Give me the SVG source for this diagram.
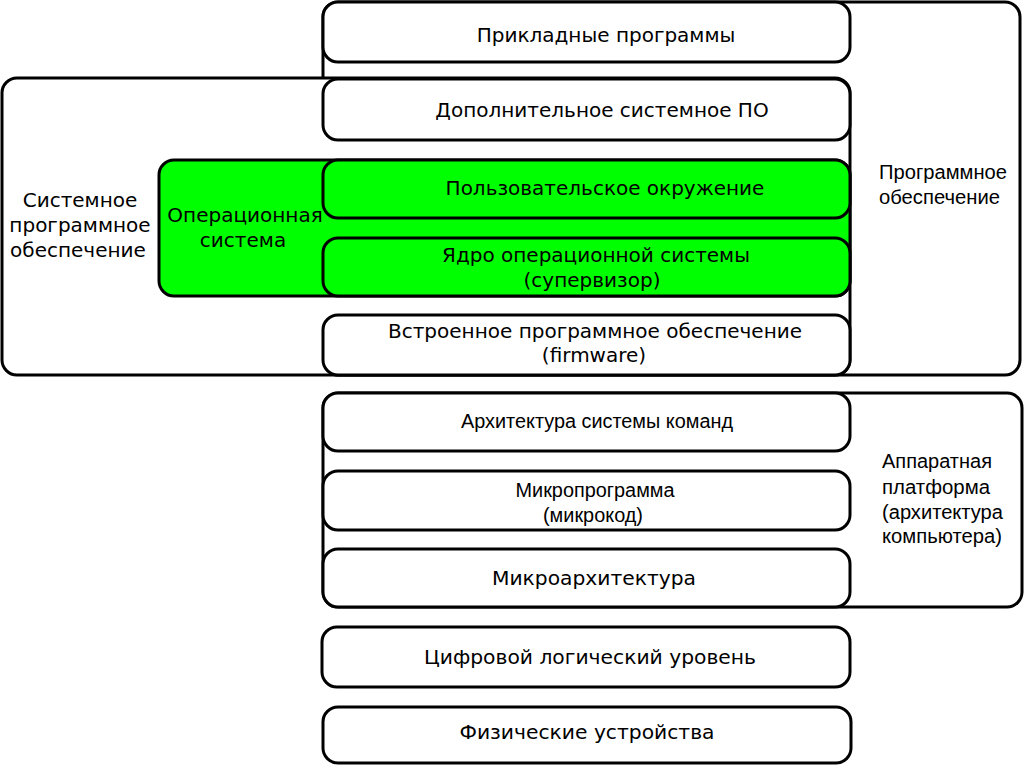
<svg xmlns="http://www.w3.org/2000/svg" width="1024" height="765" viewBox="0 0 1024 765">
<style>
.b{fill:#fff;stroke:#000;stroke-width:3}
.g{fill:#00ff00;stroke:#000;stroke-width:3}
.t{font-family:"DejaVu Sans",sans-serif;font-size:20px;fill:#000;text-anchor:middle}
.c{font-family:"DejaVu Sans Condensed","DejaVu Sans",sans-serif;font-size:20px;fill:#000;text-anchor:middle}
.n{font-family:"Liberation Sans",Arial,sans-serif;font-size:20px;fill:#000}
.l{font-family:"Liberation Sans",Arial,sans-serif;font-size:20px;fill:#000}
</style>
<rect width="1024" height="765" fill="#fff"/>
<g id="software">
<rect class="b" x="323" y="2" width="697" height="373" rx="15"/>
<text class="l" x="879" y="179" textLength="128" lengthAdjust="spacingAndGlyphs">Программное</text>
<text class="l" x="879" y="204" textLength="121" lengthAdjust="spacingAndGlyphs">обеспечение</text>
</g>
<g id="hardware">
<rect class="b" x="323" y="393" width="699" height="214" rx="15"/>
<text class="n" x="882" y="468" textLength="110" lengthAdjust="spacingAndGlyphs">Аппаратная</text>
<text class="n" x="882" y="494" textLength="108" lengthAdjust="spacingAndGlyphs">платформа</text>
<text class="n" x="882" y="519" textLength="121" lengthAdjust="spacingAndGlyphs">(архитектура</text>
<text class="n" x="882" y="543" textLength="120" lengthAdjust="spacingAndGlyphs">компьютера)</text>
</g>
<g id="applications">
<rect class="b" x="323" y="2" width="527" height="60" rx="15"/>
<text class="t" x="606" y="42">Прикладные программы</text>
</g>
<g id="system-software">
<rect class="b" x="2" y="78" width="848" height="297" rx="15"/>
<text class="t" x="80" y="207">Системное</text>
<text class="t" x="80" y="232">программное</text>
<text class="t" x="78" y="257">обеспечение</text>
</g>
<g id="extra-system-software">
<rect class="b" x="323" y="79" width="527" height="61" rx="15"/>
<text class="t" x="602" y="117">Дополнительное системное ПО</text>
</g>
<g id="os">
<rect class="g" x="159" y="160" width="691" height="136" rx="15"/>
<text class="t" x="245" y="222">Операционная</text>
<text class="t" x="243" y="247">система</text>
</g>
<g id="user-environment">
<rect class="g" x="323" y="160" width="527" height="58" rx="15"/>
<text class="t" x="605" y="195">Пользовательское окружение</text>
</g>
<g id="kernel">
<rect class="g" x="323" y="238" width="527" height="58" rx="15"/>
<text class="t" x="596" y="262">Ядро операционной системы</text>
<text class="t" x="592" y="287">(супервизор)</text>
</g>
<g id="firmware">
<rect class="b" x="323" y="315" width="527" height="60" rx="15"/>
<text class="t" x="595" y="338">Встроенное программное обеспечение</text>
<text class="t" x="594" y="362">(firmware)</text>
</g>
<g id="isa">
<rect class="b" x="323" y="393" width="527" height="58" rx="15"/>
<text class="n" x="597" y="428" text-anchor="middle" textLength="272" lengthAdjust="spacingAndGlyphs">Архитектура системы команд</text>
</g>
<g id="microprogram">
<rect class="b" x="323" y="471" width="527" height="59" rx="15"/>
<text class="n" x="595" y="497" text-anchor="middle" textLength="159" lengthAdjust="spacingAndGlyphs">Микропрограмма</text>
<text class="n" x="593" y="522" text-anchor="middle" textLength="100" lengthAdjust="spacingAndGlyphs">(микрокод)</text>
</g>
<g id="microarchitecture">
<rect class="b" x="323" y="549" width="527" height="58" rx="15"/>
<text class="c" x="594" y="585" textLength="204" lengthAdjust="spacingAndGlyphs">Микроархитектура</text>
</g>
<g id="digital-logic">
<rect class="b" x="322" y="627" width="528" height="60" rx="15"/>
<text class="c" x="590" y="664" textLength="332" lengthAdjust="spacingAndGlyphs">Цифровой логический уровень</text>
</g>
<g id="physical">
<rect class="b" x="323" y="707" width="528" height="56" rx="15"/>
<text class="c" x="587" y="739" textLength="255" lengthAdjust="spacingAndGlyphs">Физические устройства</text>
</g>
<g id="connectors"></g>
</svg>
